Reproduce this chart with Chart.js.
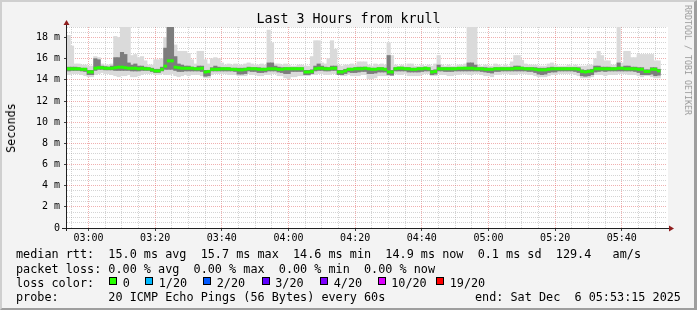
<!DOCTYPE html>
<html>
<head>
<meta charset="utf-8">
<script src="https://cdn.jsdelivr.net/npm/chart.js@4.4.1/dist/chart.umd.min.js"></script>
<style>
  html, body { margin: 0; padding: 0; background: #f3f3f3; }
  #wrap { position: relative; width: 697px; height: 310px; overflow: hidden; font-family: "DejaVu Sans Mono", monospace; color: #000; }
  #chart { position: absolute; left: 0; top: 0; }
  #frame { position: absolute; inset: 0; box-sizing: border-box; border-top: 2px solid #cfcfcf; border-left: 2px solid #cfcfcf; border-right: 3px solid #9e9e9e; border-bottom: 2px solid #9e9e9e; pointer-events: none; }
  .txt { position: absolute; white-space: pre; font-size: 11.8px; line-height: 14px; }
  #title { position: absolute; left: 0; width: 697px; top: 11.4px; text-align: center; font-size: 13.3px; line-height: 16px; white-space: pre; }
  #ylab { position: absolute; left: 11px; top: 127.5px; font-size: 11.8px; line-height: 14px; white-space: pre; transform: translate(-50%, -50%) rotate(-90deg); }
  #brand { position: absolute; left: 688px; top: 60px; font-size: 8.3px; line-height: 10px; color: #9a9a9a; white-space: pre; transform: translate(-50%, -50%) rotate(90deg); }
  .sq { position: absolute; top: 277px; width: 8px; height: 8px; box-sizing: border-box; border: 1px solid #000; }
</style>
</head>
<body>
<div id="wrap">
  <canvas id="chart" width="697" height="310"></canvas>
  <div id="title">Last 3 Hours from krull</div>
  <div id="ylab">Seconds</div>
  <div id="brand">RRDTOOL / TOBI OETIKER</div>
  <div class="txt" style="left:16px; top:247.4px">median rtt:  15.0 ms avg  15.7 ms max  14.6 ms min  14.9 ms now  0.1 ms sd  129.4   am/s</div>
  <div class="txt" style="left:16px; top:261.5px">packet loss: 0.00 % avg  0.00 % max  0.00 % min  0.00 % now</div>
  <div class="txt" style="left:16px; top:275.6px">loss color:</div>
  <div id="losskey"></div>
  <div class="txt" style="left:16px; top:289.7px">probe:       20 ICMP Echo Pings (56 Bytes) every 60s</div>
  <div class="txt" style="left:475px; top:289.7px">end: Sat Dec  6 05:53:15 2025</div>
  <div id="frame"></div>
</div>
<script>
// left edge of the plot is 02:53:33, one sample per minute
const sampleStart = 173.55;
const spanMinutes = 180;

// median rtt per minute (ms)
const medianRtt = [
  15.05,15.05,15.05,15.05,15.0,15.0,14.75,14.75,15.1,15.15,
  15.15,15.1,15.1,15.1,15.15,15.2,15.2,15.15,15.1,15.1,
  15.1,15.05,15.1,15.05,15.05,14.95,14.85,14.85,15.0,15.3,
  15.8,15.8,15.2,15.15,15.1,15.1,15.1,15.1,15.05,15.05,
  15.1,14.75,14.8,15.0,15.0,15.0,15.05,15.05,15.05,15.0,
  15.0,14.95,14.95,15.0,15.05,15.05,15.05,15.0,15.0,15.0,
  15.05,15.05,15.05,15.0,15.0,15.05,15.05,15.05,15.05,15.05,
  15.05,14.75,14.75,14.8,15.05,15.1,15.1,15.05,15.05,15.1,
  15.1,14.75,14.75,14.85,15.0,15.0,15.05,15.05,15.05,15.1,
  15.05,15.0,15.0,15.05,15.05,15.0,14.75,14.75,15.05,15.1,
  15.1,15.05,15.05,15.0,15.0,15.05,15.05,15.1,15.05,14.75,
  14.8,15.05,15.05,15.05,15.05,15.05,15.05,15.1,15.1,15.1,
  15.1,15.1,15.05,15.05,15.05,15.0,15.0,15.0,15.05,15.05,
  15.05,15.05,15.05,15.05,15.1,15.1,15.1,15.05,15.05,15.05,
  15.0,14.95,14.95,14.95,15.0,15.05,15.05,15.05,15.05,15.05,
  15.05,15.05,15.05,15.0,14.8,14.75,14.8,14.85,15.05,15.05,
  15.05,15.05,15.05,15.05,15.05,15.1,15.1,15.05,15.05,15.05,
  15.05,15.0,15.0,14.8,14.8,15.0,15.0,14.85
];

// slowest and fastest of the 20 pings (light smoke)
const pingMax = [
  18.2,17.2,15.5,15.5,15.4,15.4,15.3,15.3,16.2,16.1,
  15.5,15.4,15.4,15.5,18.1,18.0,19.0,19.0,19.0,16.3,
  16.4,16.1,16.2,15.8,15.4,15.4,15.9,15.9,16.0,18.0,
  19.0,19.0,17.3,16.7,16.7,16.7,16.5,15.9,15.5,16.7,
  16.7,15.9,15.5,16.0,16.1,16.0,15.6,15.4,15.5,15.4,
  15.5,15.4,15.4,15.5,15.6,15.5,15.4,15.4,15.5,15.4,
  18.7,17.5,15.5,15.5,15.4,15.5,15.4,15.3,15.3,15.4,
  15.4,15.3,15.3,16.2,17.7,17.7,15.6,15.5,16.0,17.7,
  16.9,15.4,15.3,15.4,15.4,15.5,15.4,15.7,15.7,15.7,
  15.4,15.3,15.5,15.4,15.5,15.4,17.5,16.3,15.4,15.3,
  15.4,15.3,15.5,15.5,15.3,15.3,15.4,15.3,15.4,15.3,
  15.5,16.3,15.4,15.3,15.4,15.3,15.3,15.4,15.4,15.5,
  19.0,19.0,19.0,15.4,15.3,15.4,15.3,15.3,15.5,15.4,
  15.3,15.4,15.3,15.7,16.3,16.3,15.85,15.5,15.4,15.4,
  15.4,15.3,15.3,15.3,15.5,15.6,15.4,15.3,15.3,15.3,
  15.4,15.3,15.4,15.3,15.3,15.3,15.4,15.4,16.0,16.7,
  16.3,15.8,15.8,15.4,15.4,19.0,15.6,16.7,16.7,16.1,
  16.1,16.4,16.4,16.4,16.4,16.4,15.8,15.8
];
const pingMin = [
  14.5,14.6,14.6,14.6,14.5,14.4,14.3,14.3,14.5,14.6,
  14.7,14.6,14.6,14.5,14.4,14.3,14.4,14.4,14.5,14.3,
  14.3,14.4,14.5,14.6,14.6,14.6,14.5,14.5,14.6,14.5,
  14.5,14.6,14.4,14.3,14.4,14.5,14.4,14.5,14.5,14.5,
  14.4,14.2,14.2,14.5,14.6,14.6,14.6,14.6,14.5,14.5,
  14.5,14.4,14.4,14.4,14.6,14.5,14.5,14.4,14.4,14.5,
  14.5,14.6,14.6,14.4,14.4,14.2,14.1,14.3,14.3,14.4,
  14.4,14.4,14.4,14.5,14.5,14.6,14.6,14.5,14.5,14.6,
  14.6,14.5,14.4,14.4,14.5,14.4,14.4,14.4,14.5,14.5,
  14.1,14.1,14.2,14.4,14.4,14.4,14.4,14.4,14.6,14.5,
  14.5,14.6,14.4,14.4,14.4,14.4,14.5,14.6,14.6,14.4,
  14.4,14.6,14.5,14.5,14.4,14.4,14.5,14.5,14.6,14.6,
  14.5,14.5,14.6,14.6,14.5,14.4,14.4,14.3,14.5,14.5,
  14.6,14.6,14.6,14.5,14.5,14.6,14.6,14.6,14.5,14.5,
  14.4,14.3,14.3,14.3,14.4,14.5,14.5,14.6,14.6,14.6,
  14.6,14.6,14.5,14.4,14.2,14.2,14.2,14.3,14.5,14.5,
  14.5,14.4,14.5,14.5,14.5,14.6,14.6,14.6,14.5,14.5,
  14.5,14.4,14.3,14.4,14.4,14.3,14.2,14.2
];

// dense middle of the pings (dark smoke)
const coreHi = [
  15.2,15.2,15.2,15.15,15.1,15.1,14.9,14.9,16.0,15.9,
  15.3,15.25,15.2,15.3,16.1,16.1,16.6,16.4,15.6,15.4,
  15.5,15.3,15.3,15.2,15.15,15.1,15.0,15.0,15.2,17.0,
  19.0,19.0,16.2,15.5,15.4,15.3,15.3,15.2,15.15,15.3,
  15.3,14.9,14.9,15.15,15.3,15.2,15.15,15.15,15.15,15.1,
  15.1,15.1,15.1,15.1,15.2,15.15,15.15,15.15,15.1,15.1,
  15.6,15.6,15.3,15.2,15.15,15.15,15.15,15.15,15.15,15.15,
  15.15,14.9,14.9,14.95,15.3,15.5,15.3,15.2,15.15,15.3,
  15.3,14.9,14.9,15.0,15.1,15.1,15.15,15.2,15.2,15.2,
  15.1,15.1,15.1,15.15,15.15,15.1,16.3,14.9,15.15,15.2,
  15.2,15.15,15.15,15.1,15.1,15.15,15.15,15.2,15.15,14.9,
  14.95,15.4,15.15,15.15,15.15,15.15,15.15,15.15,15.15,15.2,
  15.6,15.6,15.4,15.15,15.15,15.15,15.1,15.1,15.15,15.15,
  15.15,15.15,15.15,15.2,15.3,15.3,15.2,15.15,15.15,15.15,
  15.15,15.1,15.1,15.1,15.15,15.2,15.15,15.15,15.15,15.15,
  15.15,15.15,15.15,15.15,14.95,14.9,14.95,15.0,15.3,15.3,
  15.2,15.2,15.2,15.15,15.15,15.6,15.2,15.3,15.3,15.2,
  15.2,15.15,15.15,14.95,14.95,15.15,15.15,15.0
];
const coreLo = [
  14.85,14.9,14.9,14.9,14.85,14.8,14.5,14.5,14.9,15.0,
  15.0,14.95,14.95,14.95,14.9,14.9,14.9,14.9,14.9,14.85,
  14.85,14.85,14.9,14.9,14.9,14.8,14.7,14.7,14.85,15.0,
  15.0,15.0,14.9,14.8,14.8,14.85,14.85,14.85,14.85,14.85,
  14.8,14.35,14.4,14.85,14.85,14.85,14.85,14.85,14.85,14.85,
  14.8,14.55,14.55,14.6,14.85,14.8,14.8,14.7,14.7,14.75,
  14.85,14.85,14.85,14.75,14.7,14.6,14.6,14.8,14.8,14.8,
  14.8,14.5,14.5,14.6,14.85,14.9,14.9,14.85,14.85,14.9,
  14.9,14.5,14.5,14.6,14.75,14.7,14.7,14.75,14.8,14.8,
  14.6,14.6,14.65,14.75,14.75,14.75,14.5,14.45,14.85,14.85,
  14.85,14.85,14.75,14.75,14.75,14.75,14.8,14.85,14.85,14.5,
  14.55,14.85,14.85,14.8,14.8,14.8,14.85,14.85,14.85,14.85,
  14.85,14.85,14.85,14.85,14.8,14.75,14.7,14.65,14.8,14.8,
  14.85,14.85,14.85,14.85,14.85,14.85,14.85,14.85,14.8,14.8,
  14.7,14.55,14.5,14.55,14.7,14.75,14.75,14.85,14.85,14.85,
  14.85,14.85,14.8,14.7,14.4,14.35,14.4,14.5,14.75,14.8,
  14.85,14.8,14.85,14.85,14.85,14.85,14.85,14.85,14.85,14.85,
  14.8,14.7,14.5,14.5,14.5,14.55,14.4,14.45
];

// axis labels (x in minutes of the day)
const xMajorMinutes = [180, 200, 220, 240, 260, 280, 300, 320, 340];
const xMajorLabels = ["03:00", "03:20", "03:40", "04:00", "04:20", "04:40", "05:00", "05:20", "05:40"];
const yMajorValues = [0, 2, 4, 6, 8, 10, 12, 14, 16, 18];
const yMajorLabels = ["0", "2 m", "4 m", "6 m", "8 m", "10 m", "12 m", "14 m", "16 m", "18 m"];

// loss legend
const lossLabels = ["0", "1/20", "2/20", "3/20", "4/20", "10/20", "19/20"];
const lossColors = ["#26ff00", "#00b8ff", "#0059ff", "#5e00ff", "#7e00ff", "#dd00ff", "#ff0000"];
const lossLeft = [109, 145, 203, 261.5, 320, 377.5, 436];

const lossKey = document.getElementById("losskey");
lossLabels.forEach((label, i) => {
  const sq = document.createElement("div");
  sq.className = "sq";
  sq.style.left = lossLeft[i] + "px";
  sq.style.background = lossColors[i];
  lossKey.appendChild(sq);
  const t = document.createElement("div");
  t.className = "txt";
  t.style.left = (lossLeft[i] + 13.7) + "px";
  t.style.top = "275.6px";
  t.textContent = label;
  lossKey.appendChild(t);
});

const MGRID = "rgba(222, 80, 80, 0.45)";
const GRID = "rgba(143, 143, 143, 0.38)";
const FONT = { family: "DejaVu Sans Mono", size: 10 };

const at = (i) => sampleStart + i + 0.5;
const outerSmoke = pingMax.map((v, i) => ({ x: at(i), y: [pingMin[i], v] }));
const coreSmoke = coreHi.map((v, i) => ({ x: at(i), y: [coreLo[i], v] }));
const medianPts = medianRtt.map((v, i) => ({ x: at(i), y: v }));

const canvasBack = {
  id: "canvasBack",
  beforeDraw(chart) {
    const { ctx, chartArea: a } = chart;
    ctx.save();
    ctx.fillStyle = "#ffffff";
    ctx.fillRect(a.left, a.top, a.right - a.left + 1, a.bottom - a.top);
    ctx.restore();
  },
};

const axisArrows = {
  id: "axisArrows",
  afterDraw(chart) {
    const { ctx, chartArea: a } = chart;
    const x0 = a.left - 0.5;
    const y0 = a.bottom + 0.5;
    ctx.save();
    ctx.strokeStyle = "#202020";
    ctx.lineWidth = 1;
    ctx.beginPath();
    ctx.moveTo(x0, a.bottom + 3);
    ctx.lineTo(x0, a.top - 3);
    ctx.moveTo(a.left - 5, y0);
    ctx.lineTo(a.right + 3, y0);
    ctx.stroke();
    ctx.fillStyle = "#8f1e1e";
    ctx.beginPath();
    ctx.moveTo(x0, a.top - 7);
    ctx.lineTo(x0 - 3, a.top - 2);
    ctx.lineTo(x0 + 3, a.top - 2);
    ctx.closePath();
    ctx.fill();
    ctx.beginPath();
    ctx.moveTo(a.right + 7, y0);
    ctx.lineTo(a.right + 2, y0 - 3);
    ctx.lineTo(a.right + 2, y0 + 3);
    ctx.closePath();
    ctx.fill();
    ctx.restore();
  },
};

new Chart(document.getElementById("chart"), {
  type: "bar",
  data: {
    datasets: [
      {
        type: "line",
        data: medianPts,
        showLine: false,
        pointStyle: "line",
        pointRadius: 1.75,
        pointBorderWidth: 3,
        pointBorderColor: "#26ff00",
        pointBackgroundColor: "#26ff00",
        order: 0,
      },
      { data: coreSmoke, backgroundColor: "#7d7d7d", order: 1 },
      { data: outerSmoke, backgroundColor: "#dadada", order: 2 },
    ],
  },
  options: {
    responsive: false,
    devicePixelRatio: 1,
    animation: false,
    events: [],
    layout: { padding: { left: 0, top: 27, right: 30, bottom: 0 } },
    datasets: {
      bar: { barPercentage: 1, categoryPercentage: 1, grouped: false, borderWidth: 0, inflateAmount: 0.4 },
    },
    plugins: { legend: { display: false }, tooltip: { enabled: false }, title: { display: false } },
    scales: {
      x: {
        type: "linear",
        min: sampleStart,
        max: sampleStart + spanMinutes,
        bounds: "data",
        offset: false,
        afterBuildTicks: (s) => {
          const t = [];
          for (let m = 175; m < sampleStart + spanMinutes; m += 5) t.push({ value: m });
          s.ticks = t;
        },
        afterFit: (s) => { s.height = 82; },
        grid: {
          offset: false,
          lineWidth: 1,
          color: (c) => (c.tick && c.tick.value % 20 === 0 ? MGRID : GRID),
          tickLength: 3,
          tickColor: (c) => (c.tick && c.tick.value % 20 === 0 ? "#404040" : "rgba(0,0,0,0)"),
        },
        border: { display: false, dash: [1, 1] },
        ticks: {
          autoSkip: false,
          maxRotation: 0,
          minRotation: 0,
          padding: 1,
          color: "#000",
          font: FONT,
          callback: (v) => {
            const k = xMajorMinutes.indexOf(v);
            return k < 0 ? "" : xMajorLabels[k];
          },
        },
      },
      y: {
        type: "linear",
        min: 0,
        max: 19,
        bounds: "data",
        afterBuildTicks: (s) => {
          const t = [];
          for (let v = 0; v <= 19; v += 0.5) t.push({ value: v });
          s.ticks = t;
        },
        afterFit: (s) => { s.width = 67; },
        grid: {
          lineWidth: 1,
          color: (c) => (c.tick && c.tick.value % 2 === 0 ? MGRID : GRID),
          tickLength: 3,
          tickColor: (c) => (c.tick && c.tick.value % 2 === 0 ? "#404040" : "rgba(0,0,0,0)"),
        },
        border: { display: false, dash: [1, 1] },
        ticks: {
          autoSkip: false,
          padding: 4,
          color: "#000",
          font: FONT,
          callback: (v) => {
            const k = yMajorValues.indexOf(v);
            return k < 0 ? "" : yMajorLabels[k];
          },
        },
      },
    },
  },
  plugins: [canvasBack, axisArrows],
});
</script>
</body>
</html>
